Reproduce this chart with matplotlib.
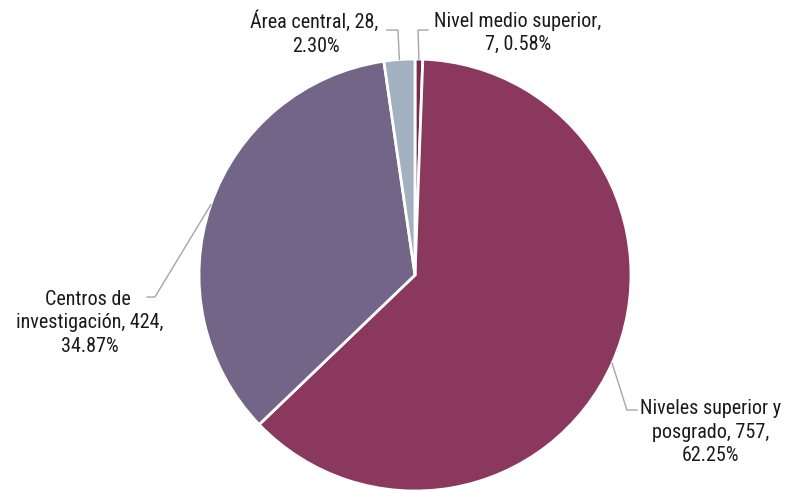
import numpy as np
import matplotlib.pyplot as plt

plt.rcParams['font.family'] = ['Roboto Condensed', 'Open Sans Condensed', 'Liberation Sans Narrow', 'Roboto', 'DejaVu Sans']

# data (clockwise from the top)
names = ['Nivel medio superior', 'Niveles superior y\nposgrado', 'Centros de \ninvestigación', 'Área central']
values = [7, 757, 424, 28]
pct = [0.58, 62.25, 34.87, 2.30]
colors = ['#7A2B4C', '#8B385E', '#736587', '#A2B0C0']
# where each label breaks before the percentage
breaks = ['\n{v}, ', ', {v},\n', ', {v},\n', ', {v}, \n']

# label layout: (text x, text y, elbow x, elbow y, end x) in data units
label_pos = [
    (0.477, 1.12, 0.014, 1.134, 0.06),
    (1.37, -0.727, 0.981, -0.625, 1.028),
    (-1.505, -0.222, -1.204, -0.102, -1.24),
    (-0.458, 1.12, -0.079, 1.134, -0.13),
]

fig = plt.figure(figsize=(7.87, 4.91), dpi=100)
ax = fig.add_axes([199 / 787, 0.0, 432 / 787, 432 / 491])
wedges, _ = ax.pie(values, colors=colors, startangle=90, counterclock=False,
                   radius=1.0, wedgeprops=dict(edgecolor='white', linewidth=2))
ax.set_xlim(-1, 1)
ax.set_ylim(-1, 1)
ax.set_aspect('equal')
ax.axis('off')

for w, name, v, p, br, (tx, ty, ex, ey, hx) in zip(wedges, names, values, pct, breaks, label_pos):
    if br.startswith('\n'):
        txt = name + ',' + br.format(v=v) + f'{p:.2f}%'
    else:
        txt = name + br.format(v=v) + f'{p:.2f}%'
    ang = np.deg2rad((w.theta1 + w.theta2) / 2)
    x0, y0 = np.cos(ang), np.sin(ang)
    ax.plot([x0, ex, hx], [y0, ey, ey], color='#A6A6A6', lw=1, clip_on=False)
    ax.text(tx, ty, txt, ha='center', va='center', fontsize=14.5, color='#1a1a1a',
            linespacing=1.3, clip_on=False)

fig.savefig('out.png', dpi=100)
